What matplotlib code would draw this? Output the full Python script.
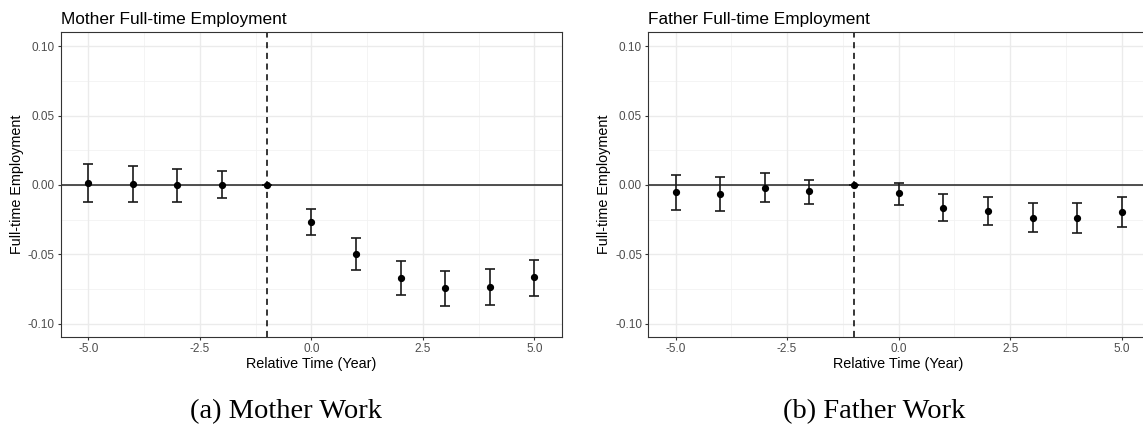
import matplotlib
matplotlib.use("Agg")
import matplotlib.pyplot as plt
import numpy as np

# ---- data ----
rel_time = [-5, -4, -3, -2, -1, 0, 1, 2, 3, 4, 5]

mother_est = [0.0015, 0.0005, -0.0002, 0.0002, 0.0, -0.0265, -0.0495, -0.0667, -0.0740, -0.0733, -0.0665]
mother_lo = [-0.0121, -0.0126, -0.0119, -0.0095, 0.0, -0.0359, -0.0609, -0.0789, -0.0869, -0.0864, -0.0796]
mother_hi = [0.0153, 0.0138, 0.0117, 0.0100, 0.0, -0.0170, -0.0383, -0.0549, -0.0619, -0.0604, -0.0539]

father_est = [-0.0053, -0.0063, -0.0019, -0.0046, 0.0, -0.0061, -0.0167, -0.0189, -0.0235, -0.0240, -0.0194]
father_lo = [-0.0182, -0.0184, -0.0126, -0.0136, 0.0, -0.0143, -0.0262, -0.0291, -0.0340, -0.0347, -0.0303]
father_hi = [0.0070, 0.0056, 0.0085, 0.0039, 0.0, 0.0017, -0.0068, -0.0090, -0.0131, -0.0131, -0.0085]

titles = ["Mother Full-time Employment", "Father Full-time Employment"]
captions = ["(a) Mother Work", "(b) Father Work"]
x_ticks = [-5.0, -2.5, 0.0, 2.5, 5.0]
x_ticklabels = ["-5.0", "-2.5", "0.0", "2.5", "5.0"]
y_ticks = [-0.10, -0.05, 0.00, 0.05, 0.10]
y_ticklabels = ["-0.10", "-0.05", "0.00", "0.05", "0.10"]
x_label = "Relative Time (Year)"
y_label = "Full-time Employment"
event_line = -1

W, H = 1143, 429
fig = plt.figure(figsize=(W / 100, H / 100), dpi=100)
sans = ["Liberation Sans", "DejaVu Sans"]
serif = ["Liberation Serif", "DejaVu Serif"]

ax_w = 500.7 / W
ax_h = (336.7 - 32.3) / H
bottom = 1 - 336.7 / H
lefts = [61 / W, 648.3 / W]

series = [(mother_est, mother_lo, mother_hi), (father_est, father_lo, father_hi)]
cap_x = [286 / W, 874 / W]

for i in range(2):
    ax = fig.add_axes([lefts[i], bottom, ax_w, ax_h])
    est, lo, hi = series[i]
    est = np.array(est); lo = np.array(lo); hi = np.array(hi)
    ax.set_xlim(-5.61, 5.61)
    ax.set_ylim(-0.1092, 0.1099)
    # grid
    for xm in [-3.75, -1.25, 1.25, 3.75]:
        ax.axvline(xm, color="#f2f2f2", lw=0.6, zorder=0)
    for ym in [-0.075, -0.025, 0.025, 0.075]:
        ax.axhline(ym, color="#f2f2f2", lw=0.6, zorder=0)
    for xm in x_ticks:
        ax.axvline(xm, color="#ebebeb", lw=1.0, zorder=0)
    for ym in y_ticks:
        ax.axhline(ym, color="#ebebeb", lw=1.0, zorder=0)
    ax.axhline(0, color="#222222", lw=1.1, zorder=1)
    ax.axvline(event_line, color="black", lw=1.1, ls=(0, (4, 3)), zorder=1)
    ax.errorbar(rel_time, est, yerr=[est - lo, hi - est], fmt="none",
                ecolor="#1a1a1a", elinewidth=1.2, capsize=3.6, capthick=1.2, zorder=2)
    ax.plot(rel_time, est, "o", color="black", ms=4.2, zorder=3)
    ax.set_xticks(x_ticks)
    ax.set_xticklabels(x_ticklabels)
    ax.set_yticks(y_ticks)
    ax.set_yticklabels(y_ticklabels)
    ax.tick_params(length=2.5, width=0.8, color="#333333", labelcolor="#4d4d4d",
                   labelsize=8.5, pad=2)
    for lab in ax.get_xticklabels() + ax.get_yticklabels():
        lab.set_family(sans)
    for s in ax.spines.values():
        s.set_color("#333333")
        s.set_linewidth(0.8)
    ax.set_xlabel(x_label, fontsize=10.4, family=sans, labelpad=1.5)
    ax.set_ylabel(y_label, fontsize=10.4, family=sans, labelpad=3)
    ax.set_title(titles[i], fontsize=12.4, family=sans, loc="left", pad=6)
    fig.text(cap_x[i], 1 - 418 / H, captions[i], ha="center", va="baseline",
             fontsize=20.5, family=serif)

fig.savefig("out.png", dpi=100)
